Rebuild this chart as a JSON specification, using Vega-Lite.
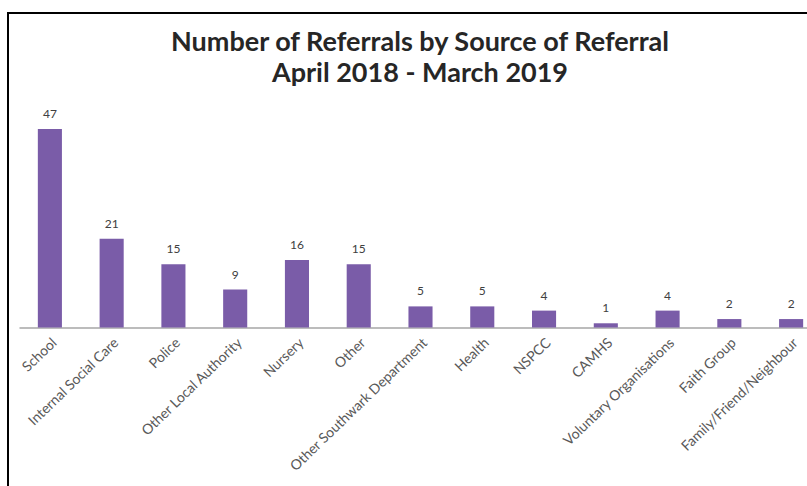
{
  "$schema": "https://vega.github.io/schema/vega-lite/v6.json",
  "autosize": {"type": "none"},
  "padding": {"left": 8, "top": 13, "right": 0, "bottom": 0},
  "width": 830,
  "height": 500,
  "background": "white",
  "config": {
    "view": {"stroke": "#000000", "strokeWidth": 2, "strokeDash": [799, 1361, 500]},
    "font": "Lato"
  },
  "title": {
    "text": ["Number of Referrals by Source of Referral", "April 2018 - March 2019"],
    "fontSize": 27,
    "fontWeight": "bold",
    "font": "Lato",
    "color": "#262626",
    "lineHeight": 31,
    "anchor": "middle",
    "frame": "group",
    "offset": 0,
    "dx": -3,
    "dy": 75
  },
  "data": {
    "values": [
      {"source": "School", "count": 47},
      {"source": "Internal Social Care", "count": 21},
      {"source": "Police", "count": 15},
      {"source": "Other Local Authority", "count": 9},
      {"source": "Nursery", "count": 16},
      {"source": "Other", "count": 15},
      {"source": "Other Southwark Department", "count": 5},
      {"source": "Health", "count": 5},
      {"source": "NSPCC", "count": 4},
      {"source": "CAMHS", "count": 1},
      {"source": "Voluntary Organisations", "count": 4},
      {"source": "Faith Group", "count": 2},
      {"source": "Family/Friend/Neighbour", "count": 2}
    ]
  },
  "encoding": {
    "x": {
      "field": "source",
      "type": "nominal",
      "sort": null,
      "scale": {"range": [11, 814], "paddingInner": 0.61, "paddingOuter": 0.305},
      "axis": {
        "title": null,
        "orient": "bottom",
        "offset": -185.5,
        "domainColor": "#a6a6a6",
        "domainWidth": 1.5,
        "ticks": false,
        "labelAngle": -44,
        "labelFontSize": 14,
        "labelColor": "#595959",
        "labelPadding": 8,
        "labelLimit": 400,
        "labelFont": "Lato"
      }
    },
    "y": {
      "field": "count",
      "type": "quantitative",
      "scale": {"domain": [0, 50], "range": [314.5, 103.4], "nice": false},
      "axis": null
    }
  },
  "layer": [
    {"mark": {"type": "bar", "color": "#7A5CA8"}},
    {
      "mark": {"type": "text", "baseline": "alphabetic", "dy": -11, "fontSize": 12, "color": "#404040", "font": "Lato"},
      "encoding": {"text": {"field": "count", "type": "quantitative"}}
    }
  ]
}
